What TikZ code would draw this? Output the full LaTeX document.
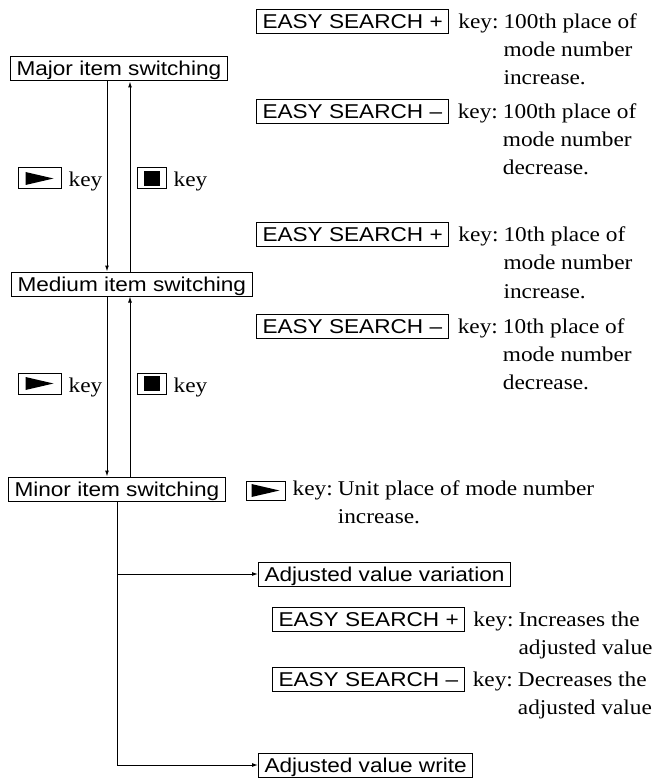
\documentclass[tikz,border=0pt]{standalone}
\usepackage{fontspec}
\setmainfont[FakeStretch=1.11]{Liberation Serif}
\setsansfont[FakeStretch=1.13]{Liberation Sans}
\usetikzlibrary{arrows.meta,positioning}

\tikzset{
  itembox/.style={draw, line width=1pt, inner xsep=6pt, inner ysep=2pt,
    text height=17pt, text depth=3pt, anchor=base west,
    font=\sffamily\fontsize{20}{24}\selectfont},
  keytext/.style={inner sep=0pt, anchor=base west, font=\fontsize{21}{28}\selectfont},
  playkey/.style={draw, line width=1pt, minimum width=43pt, minimum height=21pt, inner sep=0pt,
    path picture={\fill ([shift={(-14pt,-6.5pt)}]path picture bounding box.center)
      -- ++(28pt,6.5pt) -- ++(-28pt,6.5pt) -- cycle;}},
  stopkey/.style={draw, line width=1pt, minimum width=29pt, minimum height=21pt, inner sep=0pt,
    path picture={\fill ([shift={(-8pt,-7.5pt)}]path picture bounding box.center)
      rectangle ++(16pt,15pt);}},
  link/.style={line width=1pt, -{Latex[length=6pt,width=4pt]}}
}
\newcommand{\keydesc}[1]{\begin{tabular}[t]{@{}l@{\hspace{5pt}}l@{}}#1\end{tabular}}

\begin{document}
\begin{tikzpicture}[x=1pt,y=-1pt]
    \useasboundingbox (0,0) rectangle (662,783);

    % switching levels
    \node[itembox] (major) at (10,76) {Major item switching};
    \node[itembox] (medium) at (11,291) {Medium item switching};
    \node[itembox] (minor) at (8,496) {Minor item switching};

    % arrows between the levels
    \coordinate (dn) at (107,0);
    \coordinate (up) at (130,0);
    \draw[link] (dn |- major.south) -- (dn |- medium.north);
    \draw[link] (up |- medium.north) -- (up |- major.south);
    \draw[link] (dn |- medium.south) -- (dn |- minor.north);
    \draw[link] (up |- minor.north) -- (up |- medium.south);

    % keys beside the arrows
    \foreach \y/\n in {178.5/a,383.5/b} {
      \node[playkey] (play\n) at (39.5,\y) {};
      \node[keytext] (playt\n) at ([shift={(7pt,-8.5pt)}]play\n.east) {key};
      \node[stopkey] (stop\n) at (151.5,\y) {};
      \node[keytext] (stopt\n) at ([shift={(7pt,-8.5pt)}]stop\n.east) {key};
    }

    % 100th place
    \node[itembox] (hup) at (256,29) {EASY SEARCH +};
    \node[keytext, right=9pt of hup.base east, anchor=base west] (hupt)
      {\keydesc{key: & 100th place of\\ & mode number\\ & increase.}};
    \node[itembox] (hdn) at (256,119) {EASY SEARCH \textendash};
    \node[keytext, right=9pt of hdn.base east, anchor=base west] (hdnt)
      {\keydesc{key: & 100th place of\\ & mode number\\ & decrease.}};

    % 10th place
    \node[itembox] (tup) at (256,242) {EASY SEARCH +};
    \node[keytext, right=9pt of tup.base east, anchor=base west] (tupt)
      {\keydesc{key: & 10th place of\\ & mode number\\ & increase.}};
    \node[itembox] (tdn) at (256,333) {EASY SEARCH \textendash};
    \node[keytext, right=9pt of tdn.base east, anchor=base west] (tdnt)
      {\keydesc{key: & 10th place of\\ & mode number\\ & decrease.}};

    % unit place
    \node[playkey, minimum width=39pt, minimum height=19pt] (playc) at (265.5,490.5) {};
    \node[keytext] (playtc) at ([shift={(7pt,-4.5pt)}]playc.east)
      {\keydesc{key: & Unit place of mode number\\ & increase.}};

    % adjusted value
    \node[itembox] (vary) at (258,581) {Adjusted value variation};
    \node[itembox] (inc) at (272,626) {EASY SEARCH +};
    \node[keytext, right=8pt of inc.base east, anchor=base west] (inct)
      {\keydesc{key: & Increases the\\ & adjusted value}};
    \node[itembox] (dec) at (272,686) {EASY SEARCH \textendash};
    \node[keytext, right=8pt of dec.base east, anchor=base west] (dect)
      {\keydesc{key: & Decreases the\\ & adjusted value}};
    \node[itembox] (write) at (258,772) {Adjusted value write};

    % branches from minor item switching
    \coordinate (trunk) at (117,0);
    \draw[link] (trunk |- minor.south) |- (write.west);
    \draw[link] (trunk |- vary.west) -- (vary.west);
\end{tikzpicture}
\end{document}
